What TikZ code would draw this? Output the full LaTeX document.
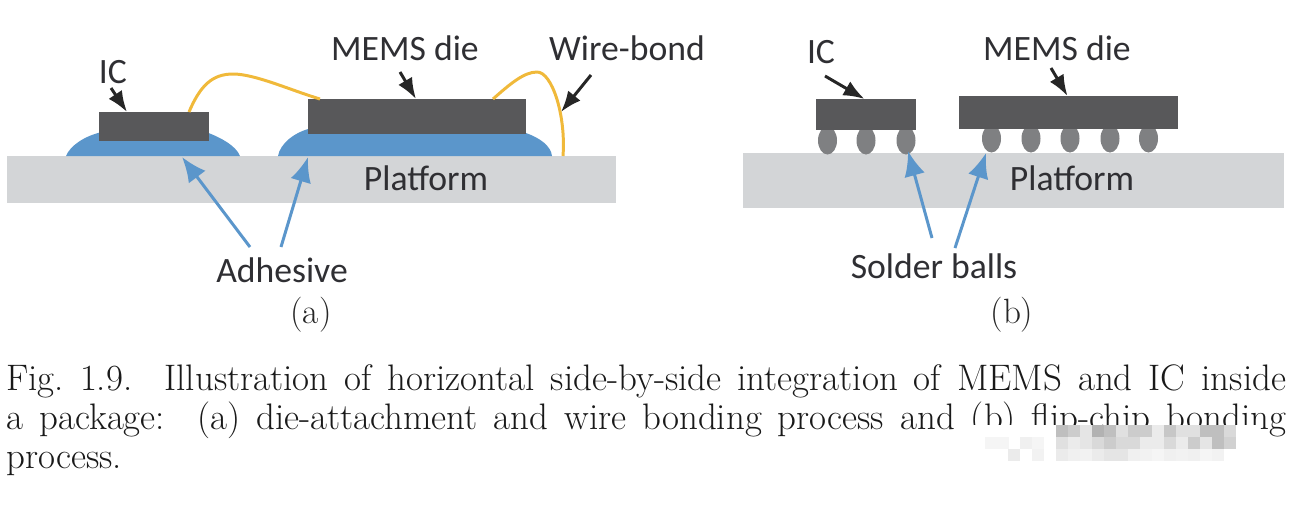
\documentclass[tikz,border=0pt]{standalone}
\usepackage{fontspec}
\usepackage{tikz}
\usetikzlibrary{arrows.meta}
\usetikzlibrary{shapes.geometric}
\newfontfamily\labelfont{Carlito}
\definecolor{diegray}{HTML}{58585A}
\definecolor{platgray}{HTML}{D3D5D7}
\definecolor{glueblue}{HTML}{5B96CB}
\definecolor{wireyellow}{HTML}{F0B93A}
\definecolor{ballgray}{HTML}{7F8082}
\definecolor{inkgray}{HTML}{2F2F33}
\tikzset{
    die/.style={fill=diegray, inner sep=0pt, minimum height=#1},
    platform/.style={fill=platgray, inner sep=0pt},
    ball/.style={fill=ballgray, ellipse, inner sep=0pt, minimum width=0.38cm, minimum height=0.56cm},
    tag/.style={font=\labelfont\fontsize{20.3}{24}\selectfont, text=inkgray, inner sep=0pt},
    sublabel/.style={font=\fontsize{20}{22.2}\selectfont, text=black!85, inner sep=0pt},
    captext/.style={font=\fontsize{21}{22.2}\selectfont, text=black!90, inner sep=0pt},
    blackarrow/.style={-{Latex[length=0.42cm,width=0.32cm]}, line width=1.7pt, black!85},
    bluearrow/.style={-{Latex[length=0.5cm,width=0.42cm]}, line width=1.7pt, glueblue},
    wire/.style={wireyellow, line width=1.7pt}
}

\begin{document}
\begin{tikzpicture}[x=0.02cm, y=-0.02cm]
    \useasboundingbox (0,0) rectangle (1305,505);

    % Die attachment
    \node[platform, minimum width=12.18cm, minimum height=0.94cm] (platA) at (311.5,179.5) {};
    \fill[glueblue] (66,156) .. controls (70,146) and (84,136) .. (102,132) -- (206,132)
        .. controls (222,138) and (236,146) .. (240,156) -- cycle;
    \fill[glueblue] (278,156) .. controls (280,144) and (294,132) .. (312,128) -- (526,133)
        .. controls (540,138) and (551,146) .. (552,156) -- cycle;
    \node[die=0.58cm, minimum width=2.2cm] (icA) at (154,126.5) {};
    \node[die=0.7cm, minimum width=4.37cm] (memsA) at (417,116.5) {};
    \draw[wire] (189,112) .. controls (200,86) and (212,74) .. (233,74)
        .. controls (255,74) and (290,90) .. (320,99);
    \draw[wire] (493,99) .. controls (510,84) and (524,72) .. (537,72)
        .. controls (552,72) and (566,115) .. (563,156);

    \node[tag] (icTagA) at (113,72) {IC};
    \node[tag] (memsTagA) at (405,48) {MEMS die};
    \node[tag] (wireTag) at (627,48) {Wire-bond};
    \node[tag] (platTagA) at (426,178) {Platform};
    \node[tag] (glueTag) at (282,270) {Adhesive};
    \node[sublabel] (subA) at (311,315) {(a)};

    \coordinate (icFromA) at (111,88);
    \coordinate (icToA) at (127,112);
    \coordinate (memsFromA) at (400,72);
    \coordinate (memsToA) at (416,99);
    \coordinate (wireFrom) at (591,75);
    \coordinate (wireTo) at (561,112);
    \coordinate (glueFromL) at (250,247);
    \coordinate (glueToL) at (182,157);
    \coordinate (glueFromR) at (281,247);
    \coordinate (glueToR) at (308,157);
    \draw[blackarrow] (icFromA) -- (icToA);
    \draw[blackarrow] (memsFromA) -- (memsToA);
    \draw[blackarrow] (wireFrom) -- (wireTo);
    \draw[bluearrow] (glueFromL) -- (glueToL);
    \draw[bluearrow] (glueFromR) -- (glueToR);

    % Flip chip
    \node[platform, minimum width=10.82cm, minimum height=1.1cm] (platB) at (1013.5,180.5) {};
    \foreach \x/\name in {827.5/a,866/b,906/c} {
        \node[ball] (ballI\name) at (\x,140.5) {};
    }
    \foreach \x/\name in {991.5/a,1031/b,1070/c,1110/d,1148.5/e} {
        \node[ball] (ballM\name) at (\x,138.5) {};
    }
    \node[die=0.62cm, minimum width=2cm] (icB) at (866,114.5) {};
    \node[die=0.66cm, minimum width=4.38cm] (memsB) at (1068.5,112.5) {};

    \node[tag] (icTagB) at (821,52) {IC};
    \node[tag] (memsTagB) at (1057,48) {MEMS die};
    \node[tag] (platTagB) at (1072,178) {Platform};
    \node[tag] (ballTag) at (934,266) {Solder balls};
    \node[sublabel] (subB) at (1012,315) {(b)};

    \coordinate (icFromB) at (825,76);
    \coordinate (icToB) at (864.5,99);
    \coordinate (memsFromB) at (1051,68);
    \coordinate (memsToB) at (1067.5,96);
    \coordinate (ballFromL) at (932,238);
    \coordinate (ballToL) at (908,151);
    \coordinate (ballFromR) at (955,248);
    \coordinate (ballToR) at (986,153);
    \draw[blackarrow] (icFromB) -- (icToB);
    \draw[blackarrow] (memsFromB) -- (memsToB);
    \draw[bluearrow] (ballFromL) -- (ballToL);
    \draw[bluearrow] (ballFromR) -- (ballToR);

    % Caption
    \node[captext, anchor=north west, text width=25.6cm, align=justify] (caption) at (6,364)
        {\frenchspacing Fig. 1.9.\ \ Illustration of horizontal side-by-side integration of MEMS and IC inside\linebreak
        a package:\ \ (a) die-attachment and wire bonding process and (b) flip-chip bonding\linebreak
        process.};

    % Mosaic over the caption
    \fill[white] (973,425) rectangle (1260,467);
    \foreach \x/\g in {1056/25,1068/20,1080/10,1092/30,1104/25,1116/12,1128/20,1140/20,1152/8,1164/22,1176/12,1188/12,1200/25,1212/25,1224/15}
        \fill[black!\g] (\x,425) rectangle ++(12,12);
    \foreach \x/\g in {985/4,997/4,1020/6,1032/4,1056/12,1068/8,1080/10,1092/15,1104/20,1116/15,1128/15,1140/8,1152/8,1164/15,1176/8,1188/20,1200/10,1212/25,1224/18}
        \fill[black!\g] (\x,437) rectangle ++(12,12);
    \foreach \x/\g in {1008/8,1032/5,1056/8,1068/6,1080/5,1092/8,1104/10,1116/10,1128/6,1140/5,1152/4,1164/6,1176/5,1188/6,1200/4,1212/5}
        \fill[black!\g] (\x,449) rectangle ++(12,12);
\end{tikzpicture}
\end{document}
